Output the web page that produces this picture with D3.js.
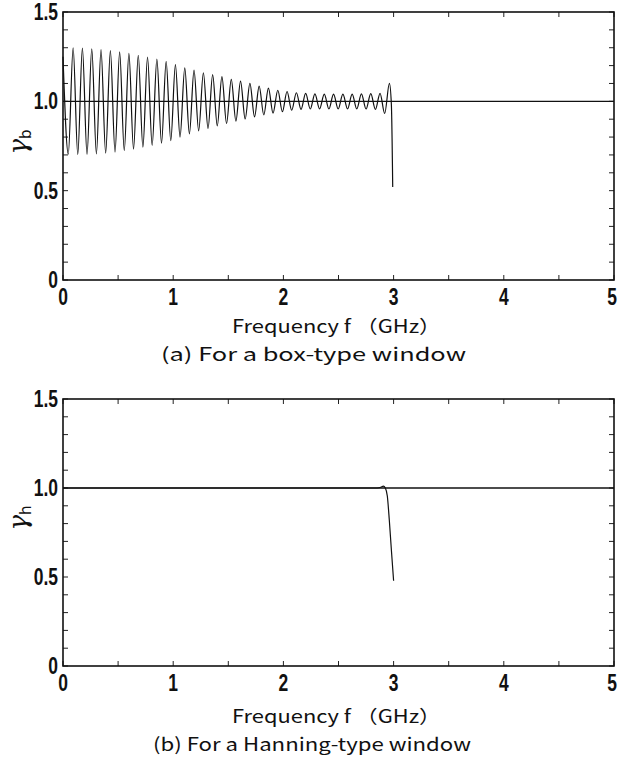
<!DOCTYPE html>
<html>
<head>
<meta charset="utf-8">
<script src="https://cdn.jsdelivr.net/npm/d3@7"></script>
<style>
  html, body { margin: 0; padding: 0; background: #fff; }
  svg { display: block; }
</style>
</head>
<body>
<svg id="chart" width="618" height="763"></svg>
<script>
// ---------- data ----------
const xTickValues = [0, 1, 2, 3, 4, 5];
const yTickLabels = ["0", "0.5", "1.0", "1.5"];
const yTickValues = [0, 0.5, 1.0, 1.5];

// (a) box-type window: gamma_b vs frequency (GHz), read at peaks and troughs
const freqB = [0.000, 0.048, 0.092, 0.134, 0.176, 0.218, 0.261, 0.303, 0.345, 0.387,
  0.430, 0.472, 0.514, 0.556, 0.598, 0.640, 0.683, 0.725, 0.767, 0.809,
  0.852, 0.894, 0.936, 0.978, 1.020, 1.062, 1.105, 1.147, 1.189, 1.231,
  1.274, 1.316, 1.358, 1.400, 1.442, 1.484, 1.527, 1.569, 1.611, 1.653,
  1.696, 1.738, 1.780, 1.822, 1.864, 1.906, 1.949, 1.991, 2.033, 2.075,
  2.118, 2.160, 2.202, 2.244, 2.286, 2.328, 2.371, 2.413, 2.455, 2.497,
  2.540, 2.582, 2.624, 2.666, 2.708, 2.750, 2.793, 2.835, 2.877, 2.919,
  2.962, 2.980, 2.992];
const gammaB = [1.25, 0.705, 1.300, 0.702, 1.298, 0.703, 1.294, 0.706, 1.290, 0.710,
  1.284, 0.716, 1.277, 0.724, 1.268, 0.733, 1.258, 0.743, 1.248, 0.754,
  1.236, 0.766, 1.224, 0.780, 1.205, 0.800, 1.187, 0.818, 1.175, 0.835,
  1.160, 0.848, 1.150, 0.862, 1.138, 0.876, 1.123, 0.889, 1.113, 0.901,
  1.100, 0.913, 1.085, 0.924, 1.074, 0.934, 1.062, 0.942, 1.055, 0.950,
  1.048, 0.955, 1.044, 0.957, 1.042, 0.958, 1.040, 0.958, 1.040, 0.958,
  1.040, 0.958, 1.040, 0.958, 1.042, 0.957, 1.043, 0.955, 1.045, 0.932,
  1.100, 0.980, 0.520];

// (b) Hanning-type window: gamma_h vs frequency (GHz)
const freqH = [0.000, 2.850, 2.890, 2.907, 2.925, 2.943, 2.961, 2.980, 3.000];
const gammaH = [1.000, 1.000, 1.006, 1.011, 1.000, 0.955, 0.820, 0.650, 0.479];

const referenceLevel = 1.0;

// ---------- drawing ----------
const svg = d3.select("#chart");
const tickFont = "'Liberation Sans', Arial, sans-serif";
const textFont = "'Noto Sans CJK JP', 'Noto Sans', sans-serif";

function panel(cfg) {
  const x = d3.scaleLinear().domain([0, 5]).range([63, 614]);
  const y = d3.scaleLinear().domain([0, 1.5]).range([cfg.bottom, cfg.top]);
  const g = svg.append("g");

  // inward minor ticks
  const xt = d3.range(0, 5.0001, 0.5);
  const yt = d3.range(0, 1.5001, 0.1);
  const tl = 5;
  g.append("g").selectAll("line").data(xt).join("line")
    .attr("x1", d => x(d)).attr("x2", d => x(d))
    .attr("y1", y(0)).attr("y2", y(0) - tl)
    .attr("stroke", "#222").attr("stroke-width", 1);
  g.append("g").selectAll("line").data(xt).join("line")
    .attr("x1", d => x(d)).attr("x2", d => x(d))
    .attr("y1", y(1.5)).attr("y2", y(1.5) + tl)
    .attr("stroke", "#222").attr("stroke-width", 1);
  g.append("g").selectAll("line").data(yt).join("line")
    .attr("x1", x(0)).attr("x2", x(0) + tl)
    .attr("y1", d => y(d)).attr("y2", d => y(d))
    .attr("stroke", "#222").attr("stroke-width", 1);
  g.append("g").selectAll("line").data(yt).join("line")
    .attr("x1", x(5)).attr("x2", x(5) - tl)
    .attr("y1", d => y(d)).attr("y2", d => y(d))
    .attr("stroke", "#222").attr("stroke-width", 1);

  // frame
  g.append("rect")
    .attr("x", x(0)).attr("y", y(1.5))
    .attr("width", x(5) - x(0)).attr("height", y(0) - y(1.5))
    .attr("fill", "none").attr("stroke", "#111").attr("stroke-width", 1.6);

  // reference line at 1.0
  g.append("line")
    .attr("x1", x(0)).attr("x2", x(5))
    .attr("y1", y(referenceLevel)).attr("y2", y(referenceLevel))
    .attr("stroke", "#111").attr("stroke-width", 1.3);

  // data curve
  const pts = cfg.fx.map((f, i) => [f, cfg.fy[i]]);
  g.append("path")
    .datum(pts)
    .attr("fill", "none").attr("stroke", "#111").attr("stroke-width", 1.2)
    .attr("d", d3.line().x(d => x(d[0])).y(d => y(d[1])).curve(d3.curveMonotoneX));

  // x tick labels (condensed bold)
  g.append("g").selectAll("text").data(xTickValues).join("text")
    .attr("transform", d => `translate(${d === 5 ? x(d) - 2 : x(d)},${y(0) + 25}) scale(0.76,1)`)
    .attr("text-anchor", "middle")
    .attr("font-family", tickFont).attr("font-weight", "bold").attr("font-size", 23)
    .attr("fill", "#111")
    .text(d => d);

  // y tick labels
  g.append("g").selectAll("text").data(yTickValues).join("text")
    .attr("transform", d => `translate(58,${y(d) + 8}) scale(0.76,1)`)
    .attr("text-anchor", "end")
    .attr("font-family", tickFont).attr("font-weight", "bold").attr("font-size", 23)
    .attr("fill", "#111")
    .text((d, i) => yTickLabels[i]);

  // y axis label (rotated)
  const yl = g.append("text")
    .attr("transform", `translate(27,${cfg.ylabY}) rotate(-90)`)
    .attr("text-anchor", "middle")
    .attr("font-family", "'DejaVu Serif', serif").attr("fill", "#111");
  yl.append("tspan").attr("font-style", "italic").attr("font-size", 26).text("γ");
  yl.append("tspan").attr("font-size", 15).attr("font-family", "'DejaVu Sans', sans-serif").attr("dy", 4).text(cfg.sub);

  // x axis title
  g.append("text")
    .attr("x", 232).attr("y", cfg.bottom + cfg.titleOff)
    .attr("textLength", 209).attr("lengthAdjust", "spacingAndGlyphs")
    .attr("font-family", textFont).attr("font-size", 18).attr("fill", "#111")
    .text("Frequency f （GHz）");

  // caption
  g.append("text")
    .attr("x", cfg.capX).attr("y", cfg.bottom + cfg.titleOff + 28)
    .attr("textLength", cfg.capW).attr("lengthAdjust", "spacingAndGlyphs")
    .attr("font-family", textFont).attr("font-size", 18).attr("fill", "#111")
    .text(cfg.caption);
}

panel({ top: 12, bottom: 280, fx: freqB, fy: gammaB, sub: "b", ylabY: 142, titleOff: 53,
        caption: "(a) For a box-type window", capX: 161, capW: 305 });
panel({ top: 399, bottom: 666, fx: freqH, fy: gammaH, sub: "h", ylabY: 518, titleOff: 57,
        caption: "(b) For a Hanning-type window", capX: 153, capW: 318 });
</script>
</body>
</html>
